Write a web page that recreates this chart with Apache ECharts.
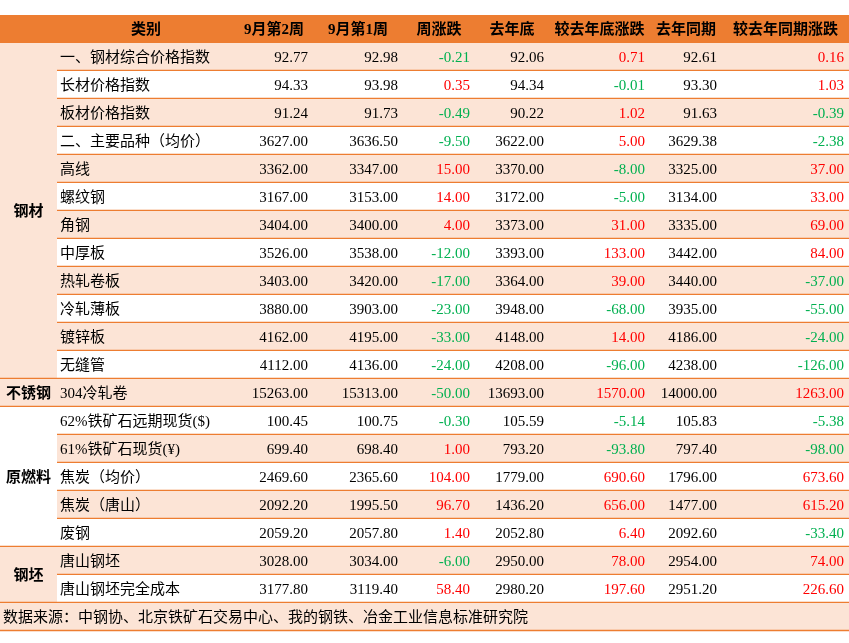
<!DOCTYPE html>
<html>
<head>
<meta charset="utf-8">
<script src="https://cdn.jsdelivr.net/npm/echarts@6/dist/echarts.min.js"></script>
<style>html,body{margin:0;padding:0;background:#fff}#main{width:849px;height:643px}</style>
</head>
<body>
<div id="main"></div>
<script>
var headers = ['', '类别', '9月第2周', '9月第1周', '周涨跌', '去年底', '较去年底涨跌', '去年同期', '较去年同期涨跌'];
var names = ['一、钢材综合价格指数', '长材价格指数', '板材价格指数', '二、主要品种（均价）', '高线', '螺纹钢', '角钢', '中厚板', '热轧卷板', '冷轧薄板', '镀锌板', '无缝管',
    '304冷轧卷', '62%铁矿石远期现货($)', '61%铁矿石现货(¥)', '焦炭（均价）', '焦炭（唐山）', '废钢', '唐山钢坯', '唐山钢坯完全成本'];
var week2 = [92.77, 94.33, 91.24, 3627, 3362, 3167, 3404, 3526, 3403, 3880, 4162, 4112, 15263, 100.45, 699.40, 2469.60, 2092.20, 2059.20, 3028, 3177.80];
var week1 = [92.98, 93.98, 91.73, 3636.50, 3347, 3153, 3400, 3538, 3420, 3903, 4195, 4136, 15313, 100.75, 698.40, 2365.60, 1995.50, 2057.80, 3034, 3119.40];
var weekChg = [-0.21, 0.35, -0.49, -9.50, 15, 14, 4, -12, -17, -23, -33, -24, -50, -0.30, 1.00, 104, 96.70, 1.40, -6, 58.40];
var yearEnd = [92.06, 94.34, 90.22, 3622, 3370, 3172, 3373, 3393, 3364, 3948, 4148, 4208, 13693, 105.59, 793.20, 1779, 1436.20, 2052.80, 2950, 2980.20];
var yearEndChg = [0.71, -0.01, 1.02, 5, -8, -5, 31, 133, 39, -68, 14, -96, 1570, -5.14, -93.80, 690.60, 656, 6.40, 78, 197.60];
var lastYear = [92.61, 93.30, 91.63, 3629.38, 3325, 3134, 3335, 3442, 3440, 3935, 4186, 4238, 14000, 105.83, 797.40, 1796, 1477, 2092.60, 2954, 2951.20];
var lastYearChg = [0.16, 1.03, -0.39, -2.38, 37, 33, 69, 84, -37, -55, -24, -126, 1263, -5.38, -98, 673.60, 615.20, -33.40, 74, 226.60];
var groups = [['钢材', 0, 11, true], ['不锈钢', 12, 12, true], ['原燃料', 13, 17, false], ['钢坯', 18, 19, true]];
var source = '数据来源：中钢协、北京铁矿石交易中心、我的钢铁、冶金工业信息标准研究院';

// layout
var colEdges = [0, 57, 235, 313, 403, 475, 549, 650, 722, 849];
var top0 = 15, rowH = 28;
var ORANGE = '#ED7D31', PEACH = '#FCE4D6';
var FONT = '"Liberation Serif","Noto Sans CJK SC",serif';

var cells = [];
headers.forEach(function (h, c) {
    if (c > 0) cells.push({ c0: c, c1: c, r0: -1, r1: -1, text: h, fill: ORANGE, bold: true, align: 'center' });
});
cells.push({ c0: 0, c1: 0, r0: -1, r1: -1, text: '', fill: ORANGE });
var cols = [week2, week1, weekChg, yearEnd, yearEndChg, lastYear, lastYearChg];
var chgCols = { 2: 1, 4: 1, 6: 1 };
names.forEach(function (n, r) {
    var fill = r % 2 === 0 ? PEACH : '#fff';
    cells.push({ c0: 1, c1: 1, r0: r, r1: r, text: n, fill: fill, align: 'left', line: true });
    cols.forEach(function (arr, k) {
        var v = arr[r];
        var color = chgCols[k] ? (v > 0 ? '#FF0000' : '#00B050') : '#000';
        cells.push({ c0: k + 2, c1: k + 2, r0: r, r1: r, text: v.toFixed(2), fill: fill, align: 'right', color: color, line: true });
    });
});
groups.forEach(function (g) {
    cells.push({ c0: 0, c1: 0, r0: g[1], r1: g[2], text: g[0], fill: g[3] ? PEACH : '#fff', bold: true, align: 'center', full: true });
});
cells.push({ c0: 0, c1: 8, r0: 20, r1: 20, text: source, fill: PEACH, align: 'left', line: true });

var chart = echarts.init(document.getElementById('main'), null, { renderer: 'canvas' });
chart.setOption({
    animation: false,
    grid: { left: 0, right: 0, top: 0, bottom: 0 },
    xAxis: { type: 'value', min: 0, max: 849, show: false },
    yAxis: { type: 'value', min: 0, max: 643, inverse: true, show: false },
    series: [{
        type: 'custom',
        data: cells.map(function (c, i) { return [c.c0, c.r0, i]; }),
        renderItem: function (params, api) {
            var c = cells[params.dataIndex];
            var p0 = api.coord([colEdges[c.c0], top0 + (c.r0 + 1) * rowH]);
            var p1 = api.coord([colEdges[c.c1 + 1], top0 + (c.r1 + 2) * rowH]);
            var w = p1[0] - p0[0], h = p1[1] - p0[1];
            var tx = c.align === 'left' ? p0[0] + 3 : c.align === 'right' ? p1[0] - 5 : p0[0] + w / 2;
            var children = [
                { type: 'rect', shape: { x: p0[0], y: p0[1], width: w, height: h }, style: { fill: c.fill } },
                { type: 'text', style: { text: c.text, x: tx, y: p0[1] + h / 2 + 1, align: c.align, verticalAlign: 'middle',
                    fill: c.color || '#000', font: (c.bold ? 'bold ' : '') + '15px ' + FONT } }
            ];
            if (c.line || c.full) {
                children.push({ type: 'line', shape: { x1: p0[0], y1: p1[1] - 0.5, x2: p1[0], y2: p1[1] - 0.5 }, style: { stroke: ORANGE, lineWidth: 1.5 } });
            }
            return { type: 'group', children: children };
        }
    }]
});
</script>
</body>
</html>
